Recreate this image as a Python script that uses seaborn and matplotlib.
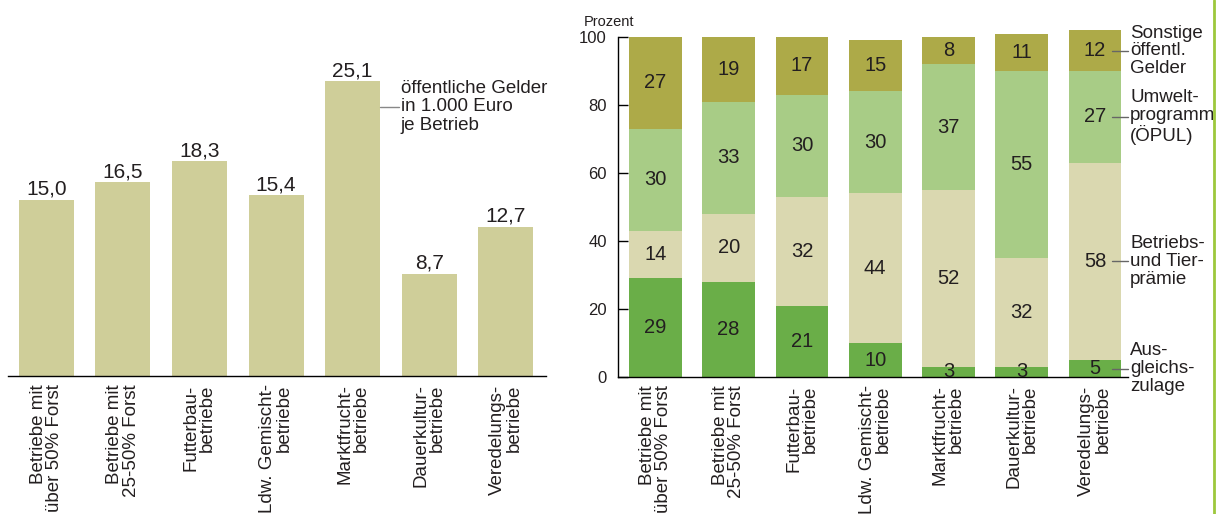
import numpy as np
import pandas as pd
import seaborn as sns
import matplotlib.pyplot as plt
from matplotlib.lines import Line2D

# data
categories = ["Betriebe mit\nüber 50% Forst", "Betriebe mit\n25-50% Forst",
              "Futterbau-\nbetriebe", "Ldw. Gemischt-\nbetriebe",
              "Marktfrucht-\nbetriebe", "Dauerkultur-\nbetriebe",
              "Veredelungs-\nbetriebe"]
gelder = [15.0, 16.5, 18.3, 15.4, 25.1, 8.7, 12.7]

ausgleich = [29, 28, 21, 10, 3, 3, 5]
praemie = [14, 20, 32, 44, 52, 32, 58]
oepul = [30, 33, 30, 30, 37, 55, 27]
sonstige = [27, 19, 17, 15, 8, 11, 12]

series_names = ["Aus-\ngleichs-\nzulage", "Betriebs-\nund Tier-\nprämie",
                "Umwelt-\nprogramm\n(ÖPUL)", "Sonstige\nöffentl.\nGelder"]
series_colors = ["#6aae48", "#dad8b0", "#a8cc86", "#adaa48"]

sns.set_theme(style="white")
plt.rcParams['font.family'] = ['Liberation Sans', 'DejaVu Sans']
txt = "#231f20"

fig = plt.figure(figsize=(12.23, 5.14), dpi=100)

# ---------- left chart ----------
ax1 = fig.add_axes([8 / 1223, 138 / 514, 537.7 / 1223, 376 / 514])
df1 = pd.DataFrame({"cat": categories, "val": gelder})
sns.barplot(data=df1, x="cat", y="val", color="#cfce99", saturation=1,
            width=0.72, linewidth=0, ax=ax1)
ax1.set_xlim(-0.5, 6.52)
ax1.set_ylim(0, 32.0)
for i, v in enumerate(gelder):
    ax1.annotate(f"{v:.1f}".replace(".", ","), (i, v), xytext=(0, 3.5),
                 textcoords="offset points", ha="center", va="baseline",
                 fontsize=15, color=txt)
ax1.plot([4.36, 4.6], [22.9, 22.9], color="#888888", lw=1)
ax1.text(4.63, 22.9, "öffentliche Gelder\nin 1.000 Euro\nje Betrieb",
         ha="left", va="center", fontsize=13.5, color=txt, linespacing=1.1)

# ---------- right chart ----------
ax2 = fig.add_axes([618 / 1223, 137 / 514, 510 / 1223, 377 / 514])
stack = np.array([ausgleich, praemie, oepul, sonstige], dtype=float)
cum = np.cumsum(stack, axis=0)
# draw cumulative totals from the largest down so each layer sits on the one below
for k in range(3, -1, -1):
    dfk = pd.DataFrame({"cat": categories, "val": cum[k]})
    sns.barplot(data=dfk, x="cat", y="val", color=series_colors[k],
                saturation=1, width=0.72, linewidth=0, ax=ax2)
for k in range(4):
    for i in range(len(categories)):
        mid = cum[k, i] - stack[k, i] / 2
        ax2.text(i, mid, f"{int(stack[k, i])}", ha="center", va="center",
                 fontsize=14.5, color=txt)
# series labels with leader lines at the last bar
last = len(categories) - 1
for k in range(4):
    mid = cum[k, last] - stack[k, last] / 2
    ax2.plot([6.23, 6.45], [mid, mid], color="#666666", lw=1, clip_on=False)
    ax2.text(6.48, mid, series_names[k], ha="left", va="center", fontsize=13.5,
             color=txt, linespacing=1.05, clip_on=False)

ax2.set_xlim(-0.51, 6.45)
ax2.set_ylim(0, 110.9)
ax2.set_yticks([0, 20, 40, 60, 80, 100])
ax2.tick_params(axis="y", direction="in", length=7, width=1, color="black",
                left=True, pad=8, labelsize=12, labelcolor=txt)
ax2.text(-0.51 - 34 / 73.3, 104.5, "Prozent", ha="left", va="center",
         fontsize=10.5, color=txt)

for ax in (ax1, ax2):
    ax.set_xlabel("")
    ax.set_ylabel("")
    ax.set_xticks(range(len(categories)))
    ax.set_xticklabels(categories, rotation=90, multialignment="right",
                       fontsize=13.5, color=txt, linespacing=0.95)
    ax.tick_params(axis="x", length=0, pad=6)
    for s in ("top", "right"):
        ax.spines[s].set_visible(False)
    ax.spines["bottom"].set_color("black")
    ax.spines["bottom"].set_linewidth(1)
    ax.patch.set_alpha(0)

ax1.spines["left"].set_visible(False)
ax1.set_yticks([])
ax2.spines["left"].set_color("black")
ax2.spines["left"].set_linewidth(1)
ax2.spines["left"].set_bounds(0, 100)

# green rule at the right edge
fig.add_artist(Line2D([1214 / 1223, 1214 / 1223], [0, 1], color="#9dc83c",
                      lw=2, transform=fig.transFigure, zorder=10))

fig.savefig("out.png", dpi=100)
